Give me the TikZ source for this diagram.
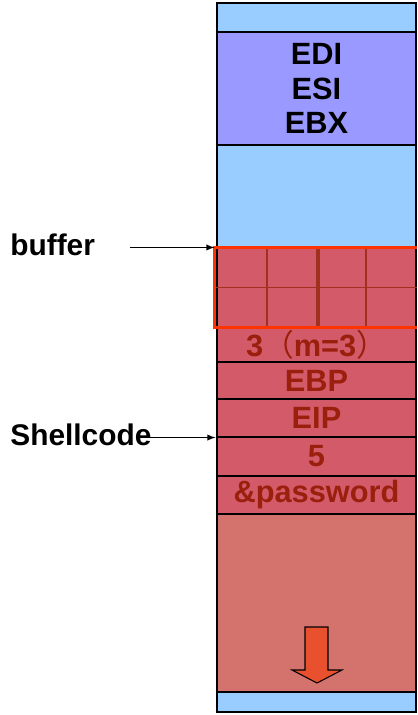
\documentclass[tikz,border=0pt]{standalone}
\usepackage{fontspec}
\setmainfont{Liberation Sans}
\newfontfamily\cjk{Noto Sans CJK SC}
\usetikzlibrary{positioning}

\newlength\px
\setlength\px{0.02cm}

\definecolor{skyblue}{HTML}{99CCFF}
\definecolor{regblue}{HTML}{9999FF}
\definecolor{stackred}{HTML}{D35A69}
\definecolor{lowred}{HTML}{D4736D}
\definecolor{textred}{HTML}{9A1F0C}
\definecolor{gridred}{HTML}{A03020}
\definecolor{bufline}{HTML}{FF3300}
\definecolor{arrowred}{HTML}{E8502E}

\tikzset{
  cell/.style={draw=black, line width=0.6pt, minimum width=199\px, inner sep=0pt,
    font=\bfseries\fontsize{17.5}{19.5}\selectfont},
  redcell/.style={cell, fill=stackred, text=textred},
  label/.style={font=\bfseries\fontsize{17}{19.5}\selectfont, anchor=west, inner sep=0pt}
}

\begin{document}
\begin{tikzpicture}[x=0.02cm, y=-0.02cm, >=latex]
\useasboundingbox (0,0) rectangle (417,715);

% Stack column
\node [cell, fill=skyblue, minimum height=29\px] (top) at (316.5,17.5) {};
\node [cell, fill=regblue, minimum height=113\px, align=center] (regs) at (316.5,88.5) {EDI\\ESI\\EBX};
\node [cell, fill=skyblue, minimum height=103\px] (gap) at (316.5,196.5) {};
\node [redcell, minimum height=79\px] (buf) at (316.5,287.5) {};
\node [redcell, minimum height=35\px] (m) at (316.5,344.5) {3{\cjk\mdseries （}m=3{\cjk\mdseries ）}};
\node [redcell, minimum height=37\px] (ebp) at (316.5,380.5) {EBP};
\node [redcell, minimum height=38\px] (eip) at (316.5,418) {EIP};
\node [redcell, minimum height=39\px] (five) at (316.5,456.5) {5};
\node [redcell, minimum height=38\px] (pass) at (316.5,495) {\&password};
\node [cell, fill=lowred, minimum height=178\px] (low) at (316.5,603) {};
\node [cell, fill=skyblue, minimum height=20\px] (bottom) at (316.5,702) {};

% Buffer grid
\draw [gridred, line width=0.9pt] (buf.west) -- (buf.east);
\foreach \x in {267,366}
  \draw [gridred, line width=0.9pt] (\x,248) -- (\x,327);
\draw [gridred, line width=1.8pt] (318,248) -- (318,327);
\draw [bufline, line width=1.7pt] (buf.north east) -- ([xshift=-2\px]buf.north west)
  -- ([xshift=-2\px]buf.south west) -- (buf.south east);

% Growth arrow
\draw [fill=arrowred, line width=0.6pt] (305,627) -- (328,627) -- (328,670) -- (342,670)
  -- (317,683) -- (292,670) -- (305,670) -- cycle;

% Labels
\node [label] (buflabel) at (10,245) {buffer};
\node [label] (shell) at (10,435) {Shellcode};
\draw [->, line width=0.6pt] ([xshift=35\px]buflabel.east |- buf.north) -- ([xshift=-2\px]buf.north west);
\draw [->, line width=0.6pt] ([xshift=-12\px]shell.east |- eip.south) -- ([xshift=-1\px]eip.south west);

\end{tikzpicture}
\end{document}
